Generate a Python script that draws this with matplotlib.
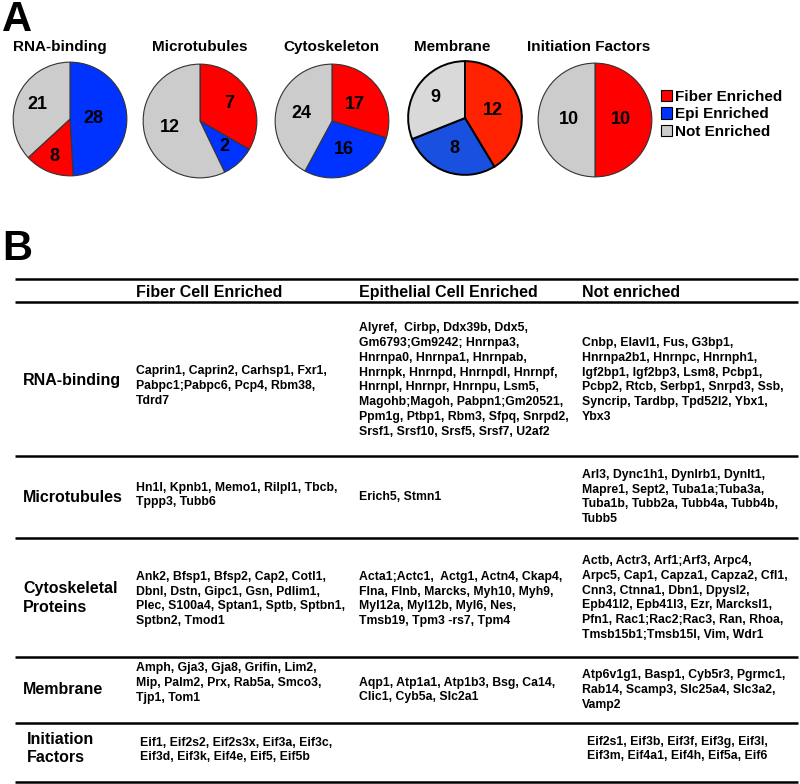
import matplotlib.pyplot as plt
from matplotlib.patches import Patch
import numpy as np

plt.rcParams['font.family'] = ['Liberation Sans', 'DejaVu Sans']
plt.rcParams['font.weight'] = 'bold'

# Panel A data: counts (fiber, epi, not enriched)
pie_titles = ['RNA-binding', 'Microtubules', 'Cytoskeleton', 'Membrane', 'Initiation Factors']
fiber_counts = [8, 7, 17, 12, 10]
epi_counts = [28, 2, 16, 8, 0]
not_counts = [21, 12, 24, 9, 10]
legend_labels = ['Fiber Enriched', 'Epi Enriched', 'Not Enriched']

# Panel B data
col_headers = ['Fiber Cell Enriched', 'Epithelial Cell Enriched', 'Not enriched']
row_labels = ['RNA-binding', 'Microtubules', 'Cytoskeletal\nProteins', 'Membrane', 'Initiation\nFactors']
fiber_genes = [
    'Caprin1, Caprin2, Carhsp1, Fxr1,\nPabpc1;Pabpc6, Pcp4, Rbm38,\nTdrd7',
    'Hn1l, Kpnb1, Memo1, Rilpl1, Tbcb,\nTppp3, Tubb6',
    'Ank2, Bfsp1, Bfsp2, Cap2, Cotl1,\nDbnl, Dstn, Gipc1, Gsn, Pdlim1,\nPlec, S100a4, Sptan1, Sptb, Sptbn1,\nSptbn2, Tmod1',
    'Amph, Gja3, Gja8, Grifin, Lim2,\nMip, Palm2, Prx, Rab5a, Smco3,\nTjp1, Tom1',
    'Eif1, Eif2s2, Eif2s3x, Eif3a, Eif3c,\nEif3d, Eif3k, Eif4e, Eif5, Eif5b',
]
epi_genes = [
    'Alyref,  Cirbp, Ddx39b, Ddx5,\nGm6793;Gm9242; Hnrnpa3,\nHnrnpa0, Hnrnpa1, Hnrnpab,\n'
    'Hnrnpk, Hnrnpd, Hnrnpdl, Hnrnpf,\nHnrnpl, Hnrnpr, Hnrnpu, Lsm5,\nMagohb;Magoh, Pabpn1;Gm20521,\n'
    'Ppm1g, Ptbp1, Rbm3, Sfpq, Snrpd2,\nSrsf1, Srsf10, Srsf5, Srsf7, U2af2',
    'Erich5, Stmn1',
    'Acta1;Actc1,  Actg1, Actn4, Ckap4,\nFlna, Flnb, Marcks, Myh10, Myh9,\nMyl12a, Myl12b, Myl6, Nes,\nTmsb19, Tpm3 -rs7, Tpm4',
    'Aqp1, Atp1a1, Atp1b3, Bsg, Ca14,\nClic1, Cyb5a, Slc2a1',
    '',
]
not_genes = [
    'Cnbp, Elavl1, Fus, G3bp1,\nHnrnpa2b1, Hnrnpc, Hnrnph1,\nIgf2bp1, Igf2bp3, Lsm8, Pcbp1,\n'
    'Pcbp2, Rtcb, Serbp1, Snrpd3, Ssb,\nSyncrip, Tardbp, Tpd52l2, Ybx1,\nYbx3',
    'Arl3, Dync1h1, Dynlrb1, Dynlt1,\nMapre1, Sept2, Tuba1a;Tuba3a,\nTuba1b, Tubb2a, Tubb4a, Tubb4b,\nTubb5',
    'Actb, Actr3, Arf1;Arf3, Arpc4,\nArpc5, Cap1, Capza1, Capza2, Cfl1,\nCnn3, Ctnna1, Dbn1, Dpysl2,\n'
    'Epb41l2, Epb41l3, Ezr, Marcksl1,\nPfn1, Rac1;Rac2;Rac3, Ran, Rhoa,\nTmsb15b1;Tmsb15l, Vim, Wdr1',
    'Atp6v1g1, Basp1, Cyb5r3, Pgrmc1,\nRab14, Scamp3, Slc25a4, Slc3a2,\nVamp2',
    'Eif2s1, Eif3b, Eif3f, Eif3g, Eif3l,\nEif3m, Eif4a1, Eif4h, Eif5a, Eif6',
]

W, H = 800, 784
fig = plt.figure(figsize=(W / 100, H / 100), dpi=100)

RED, BLUE, GRAY = '#FF0000', '#0033FF', '#CCCCCC'

# pie geometry in pixels (centre x, centre y, title x)
pie_cx = [70, 200, 332, 465, 595]
pie_cy = [119, 121, 121, 118, 120]
title_x = [60, 200, 331, 452, 589]
R = 58
# radial position of the count labels, in drawing order
label_dist = [[0.42, 0.72, 0.62], [0.6, 0.62, 0.55], [0.5, 0.55, 0.56],
              [0.51, 0.56, 0.63], [0.45, 0.45]]

for i in range(5):
    cx, cy = pie_cx[i], pie_cy[i]
    ax = fig.add_axes([(cx - R) / W, 1 - (cy + R) / H, 2 * R / W, 2 * R / H])
    vals = [fiber_counts[i], epi_counts[i], not_counts[i]]
    cols = [RED, BLUE, GRAY]
    if i == 0:
        order = [1, 0, 2]
    else:
        order = [0, 1, 2]
    if i == 3:
        cols = ['#FF2200', '#1A50E0', '#D9D9D9']
        ec, lw = 'black', 1.4
    else:
        ec, lw = '#333333', 0.8
    v = [vals[k] for k in order if vals[k] > 0]
    c = [cols[k] for k in order if vals[k] > 0]
    wedges, _ = ax.pie(v, colors=c, startangle=90, counterclock=False, radius=1,
                       wedgeprops=dict(edgecolor=ec, linewidth=lw))
    for k, w in enumerate(wedges):
        mid = np.deg2rad((w.theta1 + w.theta2) / 2)
        d = label_dist[i][k]
        ax.text(d * np.cos(mid), d * np.sin(mid), str(v[k]), ha='center', va='center',
                fontsize=13, fontweight='bold')
    ax.set_xlim(-1.02, 1.02)
    ax.set_ylim(-1.02, 1.02)
    fig.text(title_x[i] / W, 1 - 47 / H, pie_titles[i], ha='center', va='center',
             fontsize=11, fontweight='bold')

handles = [Patch(facecolor=c, edgecolor='black', linewidth=0.8) for c in [RED, BLUE, GRAY]]
fig.legend(handles, legend_labels, loc='upper left', bbox_to_anchor=(661 / W, 1 - 90 / H),
           frameon=False, handlelength=0.75, handleheight=0.75,
           handletextpad=0.15, labelspacing=0.22, borderpad=0, borderaxespad=0,
           prop=dict(weight='bold', size=11))

fig.text(2 / W, 1 - 20 / H, 'A', fontsize=30, fontweight='bold', va='center', ha='left')
fig.text(2 / W, 1 - 249 / H, 'B', fontsize=30, fontweight='bold', va='center', ha='left')

# table in pixel coordinates
tax = fig.add_axes([0, 0, 1, 1])
tax.set_xlim(0, W)
tax.set_ylim(H, 0)
tax.axis('off')

line_y = [279, 302, 456, 538, 657, 723, 782]
for y in line_y:
    tax.plot([15, 798], [y, y], color='black', linewidth=1.8, solid_capstyle='butt')

col_x = [136, 359, 582]
for j, hdr in enumerate(col_headers):
    tax.text(col_x[j], 292, hdr, fontsize=11.5, fontweight='bold', va='center', ha='left')

row_y = [380, 497, 598, 690, 749]
label_x = [23, 23, 23, 23, 27]
cell_dy = [[6, 0, 0], [-2, 0, 0], [1, 1, 0], [-7, 0, 0], [1, 0, 0]]
cell_dx = [[0, 0, 0], [0, 0, 0], [0, 0, 0], [0, 0, 0], [4, 0, 5]]
for r in range(5):
    tax.text(label_x[r], row_y[r], row_labels[r], fontsize=11.5, fontweight='bold',
             va='center', ha='left', linespacing=1.25)
    cells = [fiber_genes[r], epi_genes[r], not_genes[r]]
    for j in range(3):
        if cells[j]:
            tax.text(col_x[j] + cell_dx[r][j], row_y[r] + cell_dy[r][j], cells[j],
                     fontsize=8.8, fontweight='bold', va='center', ha='left',
                     linespacing=1.32)

fig.savefig('out.png', dpi=100)
